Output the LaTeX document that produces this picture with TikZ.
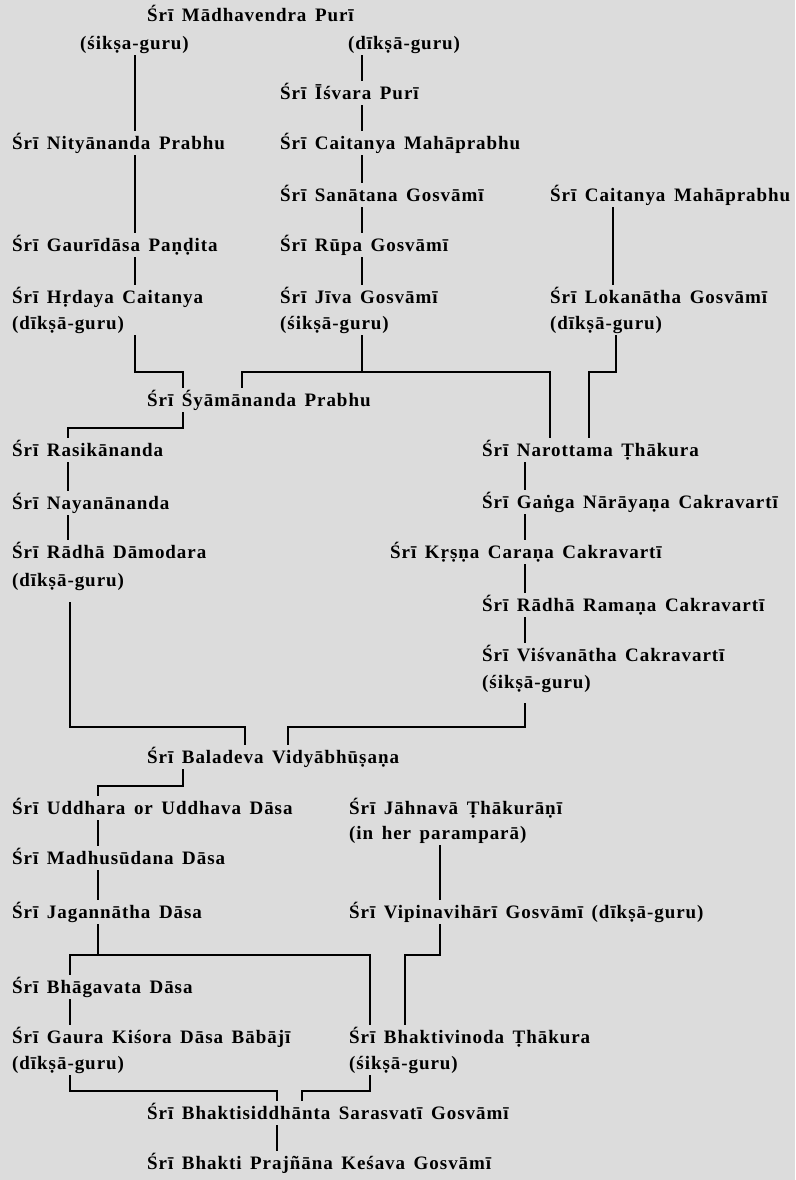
\documentclass[tikz,border=0pt]{standalone}
\usepackage{fontspec}
\setmainfont{Liberation Serif}[LetterSpace=5, WordSpace=1.5]
\definecolor{bg}{HTML}{DCDCDC}
\tikzset{
  nm/.style={anchor=west, inner sep=0pt, text height=18.5pt, text depth=5.5pt, font=\bfseries\fontsize{19}{23}\selectfont},
  ln/.style={line width=1.3pt, black}
}
\begin{document}
\begin{tikzpicture}[x=1pt,y=-1pt]
\fill[bg] (0,0) rectangle (795,1180);
\useasboundingbox (0,0) rectangle (795,1180);
% nodes
\node[nm] (mad) at (147,15) {Śrī Mādhavendra Purī};
\node[nm] (sik) at (80,43) {(śikṣa-guru)};
\node[nm] (dik) at (348,43) {(dīkṣā-guru)};
\node[nm] (isv) at (280,93) {Śrī Īśvara Purī};
\node[nm] (nit) at (12,143) {Śrī Nityānanda Prabhu};
\node[nm] (cai) at (280,143) {Śrī Caitanya Mahāprabhu};
\node[nm] (san) at (280,195) {Śrī Sanātana Gosvāmī};
\node[nm] (caib) at (550,195) {Śrī Caitanya Mahāprabhu};
\node[nm] (gau) at (12,245) {Śrī Gaurīdāsa Paṇḍita};
\node[nm] (rup) at (280,245) {Śrī Rūpa Gosvāmī};
\node[nm] (hrd) at (12,297) {Śrī Hṛdaya Caitanya};
\node[nm] (hrdg) at (12,323) {(dīkṣā-guru)};
\node[nm] (jiv) at (280,297) {Śrī Jīva Gosvāmī};
\node[nm] (jivg) at (280,323) {(śikṣā-guru)};
\node[nm] (lok) at (550,297) {Śrī Lokanātha Gosvāmī};
\node[nm] (lokg) at (550,323) {(dīkṣā-guru)};
\node[nm] (sya) at (147,400) {Śrī Śyāmānanda Prabhu};
\node[nm] (nar) at (482,450) {Śrī Narottama Ṭhākura};
\node[nm] (ras) at (12,450) {Śrī Rasikānanda};
\node[nm] (nay) at (12,503) {Śrī Nayanānanda};
\node[nm] (gan) at (482,502) {Śrī Gaṅga Nārāyaṇa Cakravartī};
\node[nm] (rad) at (12,552) {Śrī Rādhā Dāmodara};
\node[nm] (radg) at (12,580) {(dīkṣā-guru)};
\node[nm] (krs) at (390,552) {Śrī Kṛṣṇa Caraṇa Cakravartī};
\node[nm] (ram) at (482,605) {Śrī Rādhā Ramaṇa Cakravartī};
\node[nm] (vis) at (482,655) {Śrī Viśvanātha Cakravartī};
\node[nm] (visg) at (482,682) {(śikṣā-guru)};
\node[nm] (bal) at (147,757) {Śrī Baladeva Vidyābhūṣaṇa};
\node[nm] (udd) at (12,808) {Śrī Uddhara or Uddhava Dāsa};
\node[nm] (jah) at (349,808) {Śrī Jāhnavā Ṭhākurāṇī};
\node[nm] (jahg) at (349,833) {(in her paramparā)};
\node[nm] (mdh) at (12,858) {Śrī Madhusūdana Dāsa};
\node[nm] (jag) at (12,912) {Śrī Jagannātha Dāsa};
\node[nm] (vip) at (349,912) {Śrī Vipinavihārī Gosvāmī (dīkṣā-guru)};
\node[nm] (bhg) at (12,987) {Śrī Bhāgavata Dāsa};
\node[nm] (gks) at (12,1037) {Śrī Gaura Kiśora Dāsa Bābājī};
\node[nm] (gksg) at (12,1063) {(dīkṣā-guru)};
\node[nm] (bvt) at (349,1037) {Śrī Bhaktivinoda Ṭhākura};
\node[nm] (bvtg) at (349,1063) {(śikṣā-guru)};
\node[nm] (bst) at (147,1113) {Śrī Bhaktisiddhānta Sarasvatī Gosvāmī};
\node[nm] (bpk) at (147,1163) {Śrī Bhakti Prajñāna Keśava Gosvāmī};
% bus levels
\coordinate (busA) at (0,372);
\coordinate (busB) at (0,428);
\coordinate (busC) at (0,727);
\coordinate (busD) at (0,786);
\coordinate (busE) at (0,955);
\coordinate (busF) at (0,1091);
% connectors
\draw[ln] (sik.south -| 135,0) -- (nit.north -| 135,0);
\draw[ln] (nit.south -| 135,0) -- (gau.north -| 135,0);
\draw[ln] (gau.south -| 135,0) -- (hrd.north -| 135,0);
\draw[ln] (dik.south -| 362,0) -- (isv.north -| 362,0);
\draw[ln] (isv.south -| 362,0) -- (cai.north -| 362,0);
\draw[ln] (cai.south -| 362,0) -- (san.north -| 362,0);
\draw[ln] (san.south -| 362,0) -- (rup.north -| 362,0);
\draw[ln] (rup.south -| 362,0) -- (jiv.north -| 362,0);
\draw[ln] (caib.south -| 613,0) -- (lok.north -| 613,0);
\draw[ln] (hrdg.south -| 135,0) -- (busA -| 135,0) -- (busA -| 183,0) -- (sya.north -| 183,0);
\draw[ln] (jivg.south -| 362,0) -- (busA -| 362,0);
\draw[ln] (sya.north -| 242,0) -- (busA -| 242,0) -- (busA -| 550,0) -- (nar.north -| 550,0);
\draw[ln] (lokg.south -| 616,0) -- (busA -| 616,0) -- (busA -| 589,0) -- (nar.north -| 589,0);
\draw[ln] (sya.south -| 183,0) -- (busB -| 183,0) -- (busB -| 68,0) -- (ras.north -| 68,0);
\draw[ln] (ras.south -| 68,0) -- (nay.north -| 68,0);
\draw[ln] (nay.south -| 68,0) -- (rad.north -| 68,0);
\draw[ln] ([yshift=-10pt]radg.south -| 70,0) -- (busC -| 70,0) -- (busC -| 245,0) -- (bal.north -| 245,0);
\draw[ln] ([yshift=-9pt]visg.south -| 525,0) -- (busC -| 525,0) -- (busC -| 288,0) -- (bal.north -| 288,0);
\draw[ln] (nar.south -| 525,0) -- (gan.north -| 525,0);
\draw[ln] (gan.south -| 525,0) -- (krs.north -| 525,0);
\draw[ln] (krs.south -| 525,0) -- (ram.north -| 525,0);
\draw[ln] (ram.south -| 525,0) -- (vis.north -| 525,0);
\draw[ln] (bal.south -| 183,0) -- (busD -| 183,0) -- (busD -| 98,0) -- (udd.north -| 98,0);
\draw[ln] (udd.south -| 98,0) -- (mdh.north -| 98,0);
\draw[ln] (mdh.south -| 98,0) -- (jag.north -| 98,0);
\draw[ln] (jag.south -| 98,0) -- (busE -| 98,0);
\draw[ln] (bhg.north -| 70,0) -- (busE -| 70,0) -- (busE -| 370,0) -- (bvt.north -| 370,0);
\draw[ln] (bhg.south -| 70,0) -- (gks.north -| 70,0);
\draw[ln] (jahg.south -| 440,0) -- (vip.north -| 440,0);
\draw[ln] (vip.south -| 440,0) -- (busE -| 440,0) -- (busE -| 405,0) -- (bvt.north -| 405,0);
\draw[ln] (gksg.south -| 70,0) -- (busF -| 70,0) -- (busF -| 277,0) -- (bst.north -| 277,0);
\draw[ln] (bvtg.south -| 370,0) -- (busF -| 370,0) -- (busF -| 302,0) -- (bst.north -| 302,0);
\draw[ln] (bst.south -| 277,0) -- (bpk.north -| 277,0);
\end{tikzpicture}
\end{document}
